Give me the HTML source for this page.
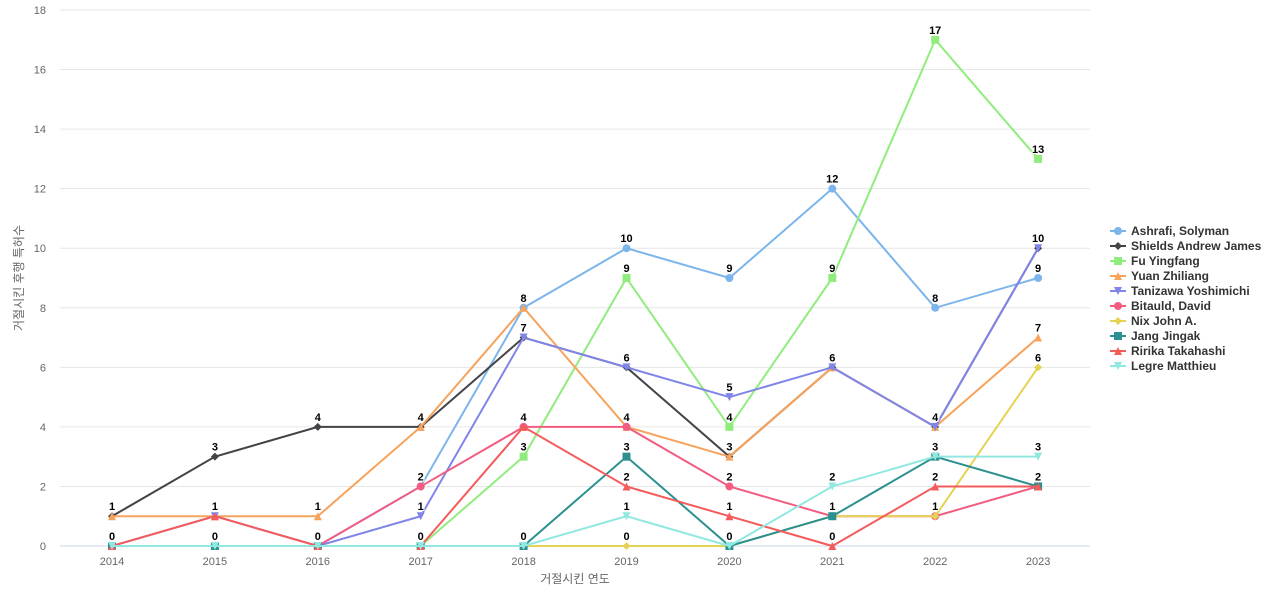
<!DOCTYPE html>
<html><head><meta charset="utf-8"><style>
html,body{margin:0;padding:0;background:#fff;width:1280px;height:600px;overflow:hidden}
svg{display:block;font-family:"Liberation Sans","Noto Sans CJK KR",sans-serif}
</style></head><body>
<svg id="chart" width="1280" height="600"></svg>
<script>
const categories=["2014","2015","2016","2017","2018","2019","2020","2021","2022","2023"];
const seriesNames=["Ashrafi, Solyman","Shields Andrew James","Fu Yingfang","Yuan Zhiliang","Tanizawa Yoshimichi","Bitauld, David","Nix John A.","Jang Jingak","Ririka Takahashi","Legre Matthieu"];
const ashrafi=[0,0,0,2,8,10,9,12,8,9];
const shields=[1,3,4,4,7,6,3,6,4,10];
const fu=[0,0,0,0,3,9,4,9,17,13];
const yuan=[1,1,1,4,8,4,3,6,4,7];
const tanizawa=[0,1,0,1,7,6,5,6,4,10];
const bitauld=[0,0,0,2,4,4,2,1,1,2];
const nix=[0,0,0,0,0,0,0,1,1,6];
const jang=[0,0,0,0,0,3,0,1,3,2];
const ririka=[0,1,0,0,4,2,1,0,2,2];
const legre=[0,0,0,0,0,1,0,2,3,3];
const yTicks=[0,2,4,6,8,10,12,14,16,18];
const allSeries=[ashrafi,shields,fu,yuan,tanizawa,bitauld,nix,jang,ririka,legre];
const colors=["#7cb5ec","#434348","#90ed7d","#f7a35c","#8085e9","#f15c80","#e4d354","#2b908f","#f45b5b","#91e8e1"];
const markers=["circle","diamond","square","triangle","triangle-down","circle","diamond","square","triangle","triangle-down"];
const NS="http://www.w3.org/2000/svg";
const svg=document.getElementById('chart');
const X0=112,XS=102.9,Y0=546,YMAX=18,YTOP=10;
const xPos=i=>X0+i*XS;
const yPos=v=>Y0-(v/YMAX)*(Y0-YTOP);
function mk(tag,attrs,parent){const e=document.createElementNS(NS,tag);for(const k in attrs)e.setAttribute(k,attrs[k]);(parent||svg).appendChild(e);return e;}
// grid
const grid=mk('g',{});


yTicks.forEach(t=>{
  const l=mk('line',{x1:60,x2:1090,y1:yPos(t),y2:yPos(t),stroke:t===0?'#ccd6eb':'#e6e6e6','stroke-width':1},grid);
  
  
  const tx=mk('text',{x:46,y:yPos(t)+4,'text-anchor':'end','font-size':11,fill:'#666'},grid);
  tx.textContent=t;
  
  
});
categories.forEach((c,i)=>{
  const tx=mk('text',{x:xPos(i),y:565,'text-anchor':'middle','font-size':11,fill:'#666'});
  tx.textContent=c;
  
  
});
const xt=mk('text',{x:575,y:583,'text-anchor':'middle','font-size':12,fill:'#666'});
xt.textContent='거절시킨 연도';


const yt=mk('text',{x:23,y:278,'text-anchor':'middle','font-size':12,fill:'#666',transform:'rotate(-90 23 278)'});
yt.textContent='거절시킨 후행 특허수';


function marker(type,x,y,c,p,s){
  s=s||4;
  if(type==='circle')return mk('circle',{cx:x,cy:y,r:s,fill:c},p);
  if(type==='square')return mk('rect',{x:x-s,y:y-s,width:2*s,height:2*s,fill:c},p);
  if(type==='diamond')return mk('path',{d:`M${x} ${y-s}L${x+s} ${y}L${x} ${y+s}L${x-s} ${y}Z`,fill:c},p);
  if(type==='triangle')return mk('path',{d:`M${x} ${y-s}L${x+s} ${y+s}L${x-s} ${y+s}Z`,fill:c},p);
  return mk('path',{d:`M${x-s} ${y-s}L${x+s} ${y-s}L${x} ${y+s}Z`,fill:c},p);
}
allSeries.forEach((data,si)=>{
  const g=mk('g',{});
  
  
  const pl=mk('polyline',{points:data.map((v,i)=>xPos(i)+','+yPos(v)).join(' '),fill:'none',stroke:colors[si],'stroke-width':2},g);
  
  
  data.forEach((v,i)=>{
    const m=marker(markers[si],xPos(i),yPos(v),colors[si],g);
    
    
  });
});
const lab=mk('g',{});


allSeries.forEach(data=>{
  data.forEach((v,i)=>{
    const t=mk('text',{x:xPos(i),y:yPos(v)-6,'text-anchor':'middle','font-size':11,'font-weight':'bold',fill:'#000',stroke:'#fff','stroke-width':2,'paint-order':'stroke'},lab);
    t.textContent=v;
    
    
  });
});
const leg=mk('g',{});


seriesNames.forEach((n,i)=>{
  const y=231+i*15;
  const e=mk('g',{},leg);
  
  
  mk('line',{x1:1110,x2:1126,y1:y,y2:y,stroke:colors[i],'stroke-width':2},e);
  marker(markers[i],1118,y,colors[i],e);
  const t=mk('text',{x:1131,y:y+4,'font-size':12,'font-weight':'bold',fill:'#333'},e);
  t.textContent=n;
});
</script>
</body></html>
